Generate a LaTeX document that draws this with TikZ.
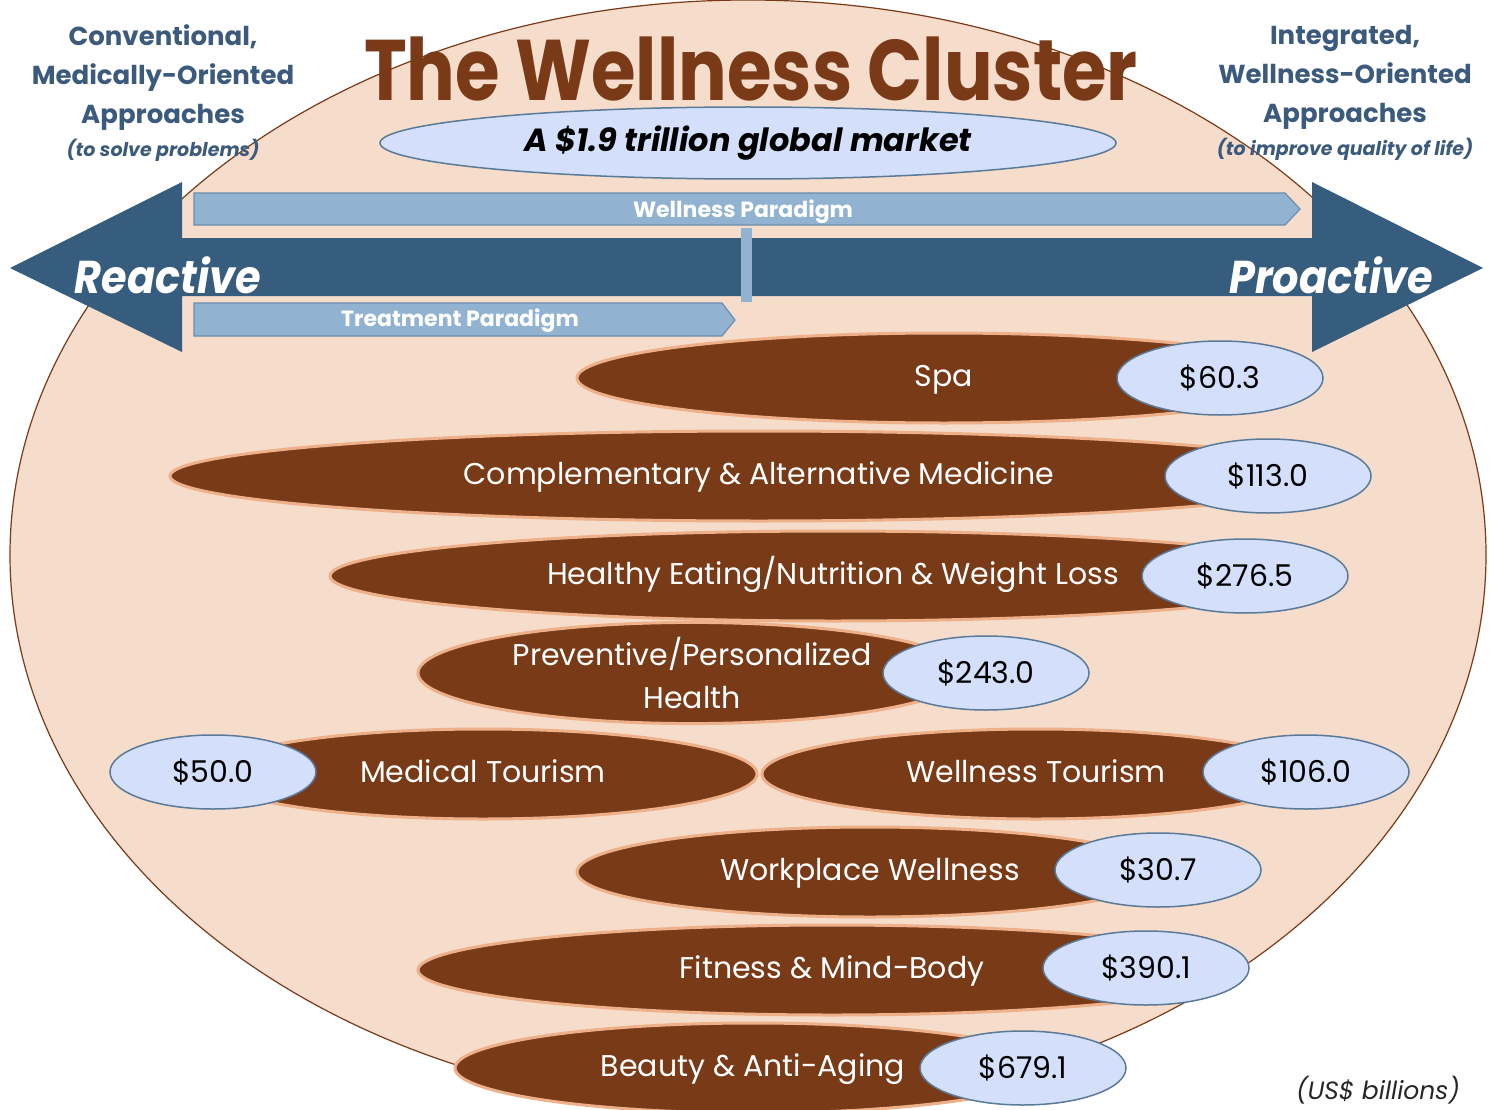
\documentclass[tikz,border=0pt]{standalone}
\usepackage{fontspec}
\setmainfont{Poppins}
\newfontfamily\narrowfont[FakeStretch=0.84]{Poppins}
\newfontfamily\slimfont[FakeStretch=0.9]{Poppins}
\usetikzlibrary{shapes.geometric}
\definecolor{peach}{HTML}{F5DCCB}
\definecolor{rimbrown}{HTML}{7A3A18}
\definecolor{clusterbrown}{HTML}{783A17}
\definecolor{glow}{HTML}{EDB089}
\definecolor{darkblue}{HTML}{365C7E}
\definecolor{barblue}{HTML}{91B3D1}
\definecolor{barrim}{HTML}{6C8EAC}
\definecolor{pilllav}{HTML}{D4DFFB}
\definecolor{pillrim}{HTML}{5A7A99}
\definecolor{sideblue}{HTML}{3B5A7C}
\tikzset{
  brownell/.style={ellipse, fill=clusterbrown, draw=glow, line width=3pt, text=white,
    minimum height=90pt, inner sep=0pt, align=center,
    font=\fontsize{30}{43}\selectfont},
  pill/.style={ellipse, fill=pilllav, draw=pillrim, line width=1.5pt, text=black,
    minimum width=206pt, minimum height=74pt, inner sep=0pt,
    font=\fontsize{30}{34}\selectfont},
  sidelabel/.style={text=sideblue, align=center, font=\bfseries\fontsize{26}{39}\selectfont},
  bar/.style={fill=barblue, draw=barrim, line width=1.2pt},
  bartext/.style={text=white, font=\bfseries\fontsize{22}{24}\selectfont},
  bigword/.style={text=white, font=\slimfont\bfseries\itshape\fontsize{46}{50}\selectfont}
}
\begin{document}
\begin{tikzpicture}[x=1pt,y=-1pt]
\useasboundingbox (0,0) rectangle (1490,1110);
\begin{scope}
\clip (0,0) rectangle (1490,1110);
\filldraw[fill=peach, draw=rimbrown, line width=1.2pt] (748,555) ellipse [x radius=738, y radius=555];
\end{scope}
% heading
\node[text=rimbrown, inner sep=0pt, font=\narrowfont\bfseries\fontsize{86}{90}\selectfont] (title) at (751,69) {The Wellness Cluster};
\node[ellipse, fill=pilllav, draw=pillrim, line width=1.5pt, minimum width=736pt, minimum height=72pt,
  inner sep=0pt, font=\bfseries\itshape\fontsize{32}{38}\selectfont] (market) at (748,143) {A \$1.9 trillion global market};
\node[sidelabel] (conv) at (163,93) {Conventional,\\Medically-Oriented\\Approaches\\[-6pt]{\itshape\fontsize{19}{22}\selectfont(to solve problems)}};
\node[sidelabel] (integ) at (1345,93) {Integrated,\\Wellness-Oriented\\Approaches\\[-6pt]{\itshape\fontsize{19}{22}\selectfont(to improve quality of life)}};
% paradigm arrows
\filldraw[bar] (194,193) -- (1285,193) -- (1300,209) -- (1285,225) -- (194,225) -- cycle;
\node[bartext] (wellpar) at (743,212) {Wellness Paradigm};
\fill[darkblue] (10,268) -- (182,182) -- (182,238) -- (1312,238) -- (1312,182) -- (1483,268)
  -- (1312,352) -- (1312,296) -- (182,296) -- (182,352) -- cycle;
\fill[barblue] (741,228) rectangle (752,302);
\filldraw[bar] (194,303) -- (722,303) -- (735,320) -- (722,336) -- (194,336) -- cycle;
\node[bartext] (treatpar) at (460,321) {Treatment Paradigm};
\node[bigword] (reactive) at (168,275) {Reactive};
\node[bigword] (proactive) at (1331,275) {Proactive};
% sectors
\node[brownell, minimum width=734pt] (spa) at (944,378) {\strut Spa};
\node[pill] (spaval) at (1220,378) {\$60.3};
\node[brownell, minimum width=1178pt] (cam) at (759,476) {\strut Complementary \& Alternative Medicine};
\node[pill] (camval) at (1268,476) {\$113.0};
\node[brownell, minimum width=1006pt] (eat) at (833,576) {\strut Healthy Eating/Nutrition \& Weight Loss};
\node[pill] (eatval) at (1245,576) {\$276.5};
\node[brownell, minimum width=548pt] (prev) at (692,673) {Preventive/Personalized\\Health};
\node[pill] (prevval) at (986,673) {\$243.0};
\node[brownell, minimum width=548pt] (medtour) at (483,774) {\strut Medical Tourism};
\node[pill] (medval) at (213,772) {\$50.0};
\node[brownell, minimum width=548pt] (welltour) at (1036,774) {\strut Wellness Tourism};
\node[pill] (wellval) at (1306,772) {\$106.0};
\node[brownell, minimum width=586pt] (work) at (870,872) {\strut Workplace Wellness};
\node[pill] (workval) at (1158,870) {\$30.7};
\node[brownell, minimum width=828pt] (fit) at (832,970) {\strut Fitness \& Mind-Body};
\node[pill] (fitval) at (1146,968) {\$390.1};
\node[brownell, minimum width=596pt] (beauty) at (753,1068) {\strut Beauty \& Anti-Aging};
\node[pill] (beautyval) at (1023,1068) {\$679.1};
\node[text=black!85, font=\itshape\fontsize{25}{28}\selectfont] (unit) at (1378,1090) {(US\$ billions)};
\end{tikzpicture}
\end{document}
